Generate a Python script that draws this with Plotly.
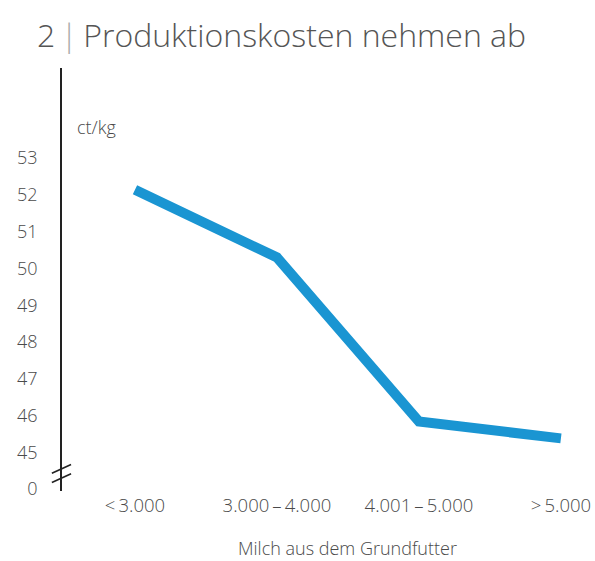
import plotly.graph_objects as go

categories = ["<\u20093.000", "3.000\u2009–\u20094.000", "4.001\u2009–\u20095.000", ">\u20095.000"]
costs = [52.14, 50.3, 45.84, 45.38]
y_tick_vals = [44, 45, 46, 47, 48, 49, 50, 51, 52, 53]
y_tick_text = ["0", "45", "46", "47", "48", "49", "50", "51", "52", "53"]

FONT = "Open Sans"
GRAY = "#4a4a4a"

x_idx = list(range(len(categories)))

fig = go.Figure()
fig.add_trace(go.Scatter(
    x=x_idx, y=costs, mode="lines",
    line=dict(color="#1a95d2", width=10, shape="linear"),
    hoverinfo="skip", showlegend=False,
))

fig.update_layout(
    width=595, height=561,
    margin=dict(l=62, r=0, t=68, b=70),
    paper_bgcolor="white", plot_bgcolor="white",
    font=dict(family=FONT, color=GRAY, size=18, weight=300),
    xaxis=dict(
        range=[-0.514, 3.24], tickmode="array", tickvals=x_idx, ticktext=categories,
        showgrid=False, zeroline=False, showline=False, ticks="",
        tickfont=dict(size=18.5, color=GRAY), ticklabelstandoff=1,
    ),
    yaxis=dict(
        range=[43.95, 55.45], tickmode="array", tickvals=y_tick_vals, ticktext=y_tick_text,
        showgrid=False, zeroline=False, showline=True, linecolor="#222", linewidth=1.6,
        ticks="", tickfont=dict(size=18, color=GRAY), ticklabelstandoff=19,
    ),
    annotations=[
        dict(text="2<span style='color:#aaa'>\u2009|\u2009</span>Produktionskosten nehmen ab",
             xref="paper", yref="paper", x=0, y=1.0, xanchor="left", yanchor="bottom",
             xshift=-27, yshift=10, showarrow=False,
             font=dict(size=32, color="#555", family=FONT, weight=300)),
        dict(text="ct/kg", xref="paper", yref="y", x=0, y=53.85, xanchor="left", yanchor="middle",
             xshift=13, showarrow=False, font=dict(size=18, color=GRAY, family=FONT, weight=300)),
        dict(text="Milch aus dem Grundfutter", xref="paper", yref="paper", x=0.535, y=0,
             xanchor="center", yanchor="middle", yshift=-57, showarrow=False,
             font=dict(size=18, color=GRAY, family=FONT, weight=300)),
    ],
)

# axis break marks
for yb in (44.55, 44.3):
    fig.add_shape(type="line", xref="paper", yref="y",
                  x0=-0.019, x1=0.017, y0=yb - 0.12, y1=yb + 0.12,
                  line=dict(color="#222", width=1.6))

fig.write_html("out.html")
